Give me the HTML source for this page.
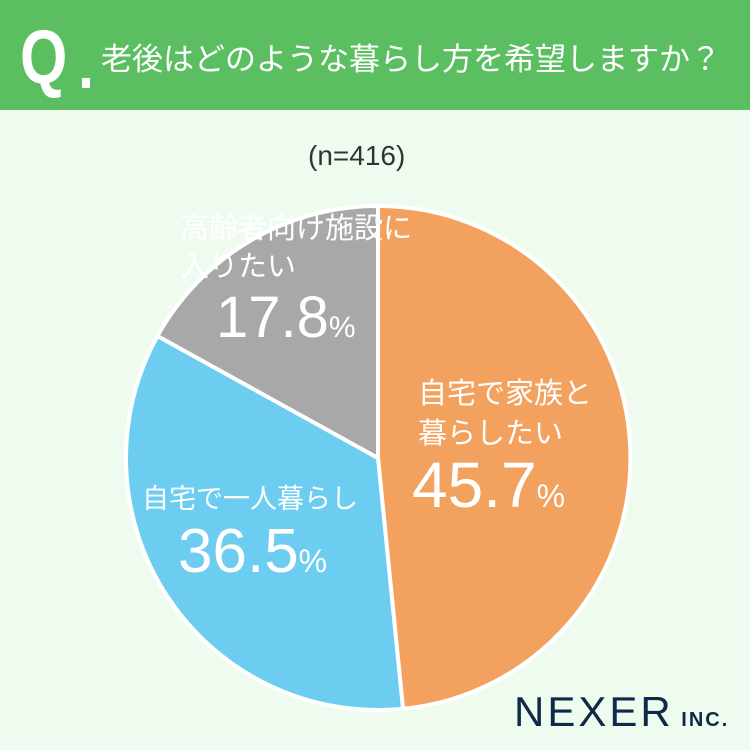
<!DOCTYPE html>
<html><head><meta charset="utf-8"><style>
body{margin:0;width:750px;height:750px;background:#f0fbf0;position:relative;overflow:hidden;font-family:"Liberation Sans","Noto Sans CJK JP",sans-serif}
.hdr{position:absolute;left:0;top:0;width:750px;height:110px;background:#5bbf62}
.t{position:absolute;white-space:nowrap}
</style></head><body>
<div class="hdr"></div>
<div class="t" style="left:20px;top:14px;font-size:76px;color:#fff;font-weight:bold;transform:scaleX(0.8);transform-origin:left">Q</div>
<div class="t" style="left:82px;top:78px;width:8px;height:10px;background:#fff"></div>
<div class="t" style="left:101px;top:34px;font-size:31px;color:#fff">老後はどのような暮らし方を希望しますか？</div>
<div class="t" style="left:308px;top:140px;font-size:28px;color:#333">(n=416)</div>
<svg width="750" height="750" style="position:absolute;left:0;top:0">
<path d="M378 458 L378 206 A252 252 0 0 1 403 708.8 Z" fill="#f2a25e" stroke="#fff" stroke-width="4" stroke-linejoin="round"/>
<path d="M378 458 L403 708.8 A252 252 0 0 1 157.5 336 Z" fill="#6ccdf0" stroke="#fff" stroke-width="4" stroke-linejoin="round"/>
<path d="M378 458 L157.5 336 A252 252 0 0 1 378 206 Z" fill="#a8a8a8" stroke="#fff" stroke-width="4" stroke-linejoin="round"/>
</svg>
<div class="t" style="left:180px;top:210px;font-size:29px;color:#fff;line-height:38px">高齢者向け施設に<br>入りたい</div>
<div class="t" style="left:216px;top:284px;font-size:58px;color:#fff">17.8<span style="font-size:30px">%</span></div>
<div class="t" style="left:418px;top:374px;font-size:29px;color:#fff;line-height:40px">自宅で家族と<br>暮らしたい</div>
<div class="t" style="left:412px;top:448px;font-size:64px;color:#fff">45.7<span style="font-size:32px">%</span></div>
<div class="t" style="left:142px;top:477px;font-size:27px;color:#fff">自宅で一人暮らし</div>
<div class="t" style="left:178px;top:516px;font-size:62px;color:#fff">36.5<span style="font-size:32px">%</span></div>
<div class="t" style="left:514px;top:690px;font-size:42px;color:#0e2a47;letter-spacing:3px;line-height:44px">NEXER<span style="font-size:20px;font-weight:bold;letter-spacing:2px"> INC.</span></div>
</body></html>
